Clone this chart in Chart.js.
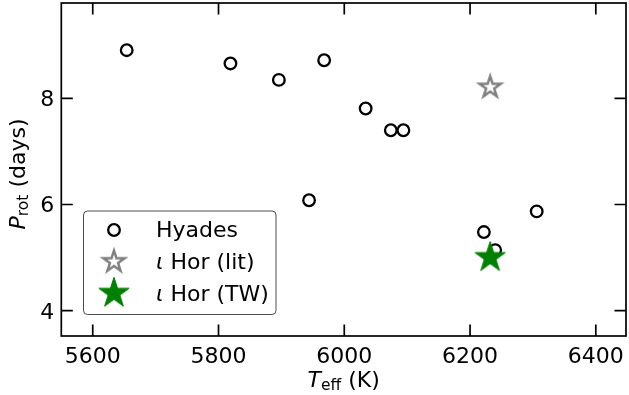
<!DOCTYPE html>
<html><head><meta charset="utf-8">
<script src="https://cdn.jsdelivr.net/npm/chart.js@4"></script>
<style>html,body{margin:0;padding:0;background:#fff;}</style>
</head><body>
<canvas id="c" width="629" height="395"></canvas>
<script>
// ---- data ----
const hyadesTeff = [5654, 5819, 5896, 5968, 6034, 6074, 6094, 5944, 6222, 6240, 6306];
const hyadesProt = [8.91, 8.66, 8.35, 8.72, 7.81, 7.40, 7.40, 6.08, 5.48, 5.14, 5.87];
const litTeff = [6232];
const litProt = [8.21];
const twTeff = [6232];
const twProt = [5.00];
const xTicks = [5600, 5800, 6000, 6200, 6400];
const yTicks = [4, 6, 8];
const seriesLabels = ['Hyades', 'ι Hor (lit)', 'ι Hor (TW)'];
const xTitle = ['T', 'eff', ' (K)'];
const yTitle = ['P', 'rot', ' (days)'];

const FONT = "'DejaVu Sans'";

function makeStar(R, fill, stroke, lw) {
  const size = Math.ceil((R + lw * 3 + 2)) * 2;
  const c = document.createElement('canvas');
  c.width = size; c.height = size;
  const g = c.getContext('2d');
  const cx = size / 2, cy = size / 2, r = R * 0.381966;
  g.beginPath();
  for (let i = 0; i < 10; i++) {
    const rr = i % 2 ? r : R;
    const a = -Math.PI / 2 + i * Math.PI / 5;
    g.lineTo(cx + rr * Math.cos(a), cy + rr * Math.sin(a));
  }
  g.closePath();
  g.lineJoin = 'miter';
  g.miterLimit = 10;
  if (fill) { g.fillStyle = fill; g.fill(); }
  if (stroke) { g.strokeStyle = stroke; g.lineWidth = lw; g.stroke(); }
  return c;
}
const greyStar = makeStar(11.2, null, '#808080', 2.5);
const greenStar = makeStar(16, '#008000', '#008000', 1);

function pts(xs, ys) { return xs.map((v, i) => ({ x: v, y: ys[i] })); }

function drawMixed(ctx, parts, cx, baseY) {
  const fonts = [`italic 22px ${FONT}`, `15.5px ${FONT}`, `22px ${FONT}`];
  const dys = [0, 3, 0];
  let total = 0;
  const widths = parts.map((p, i) => { ctx.font = fonts[i]; const w = ctx.measureText(p).width; total += w; return w; });
  let x = cx - total / 2;
  ctx.textBaseline = 'alphabetic';
  ctx.textAlign = 'left';
  parts.forEach((p, i) => { ctx.font = fonts[i]; ctx.fillText(p, x, baseY + dys[i]); x += widths[i]; });
}

const decor = {
  id: 'decor',
  afterDraw(chart) {
    const { ctx, chartArea: a, scales: { x, y } } = chart;
    ctx.save();
    ctx.strokeStyle = '#000';
    ctx.lineWidth = 1.7;
    ctx.strokeRect(a.left, a.top, a.right - a.left, a.bottom - a.top);
    const L = 11.5;
    ctx.beginPath();
    x.ticks.forEach(t => {
      const px = x.getPixelForValue(t.value);
      ctx.moveTo(px, a.bottom); ctx.lineTo(px, a.bottom - L);
      ctx.moveTo(px, a.top); ctx.lineTo(px, a.top + L);
    });
    y.ticks.forEach(t => {
      const py = y.getPixelForValue(t.value);
      ctx.moveTo(a.left, py); ctx.lineTo(a.left + L, py);
      ctx.moveTo(a.right, py); ctx.lineTo(a.right - L, py);
    });
    ctx.stroke();

    // tick labels
    ctx.fillStyle = '#000';
    ctx.font = `22px ${FONT}`;
    ctx.textBaseline = 'alphabetic';
    ctx.textAlign = 'center';
    x.ticks.forEach(t => {
      ctx.fillText(String(t.value), x.getPixelForValue(t.value), 363);
    });
    ctx.textAlign = 'right';
    y.ticks.forEach(t => {
      ctx.fillText(String(t.value), a.left - 7, y.getPixelForValue(t.value) + 8);
    });

    // axis titles
    drawMixed(ctx, xTitle, (a.left + a.right) / 2, 387);
    ctx.save();
    ctx.translate(25, 174);
    ctx.rotate(-Math.PI / 2);
    drawMixed(ctx, yTitle, 0, 0);
    ctx.restore();

    // legend
    const bx = 83.5, by = 211, bw = 192.5, bh = 103.5, rad = 4;
    ctx.beginPath();
    ctx.moveTo(bx + rad, by);
    ctx.arcTo(bx + bw, by, bx + bw, by + bh, rad);
    ctx.arcTo(bx + bw, by + bh, bx, by + bh, rad);
    ctx.arcTo(bx, by + bh, bx, by, rad);
    ctx.arcTo(bx, by, bx + bw, by, rad);
    ctx.closePath();
    ctx.fillStyle = 'rgba(255,255,255,0.8)';
    ctx.fill();
    ctx.strokeStyle = 'rgba(0,0,0,0.7)';
    ctx.lineWidth = 1;
    ctx.stroke();
    const rowsY = [230, 261.7, 293.3];
    const baseLines = [237.3, 269.3, 301];
    chart.data.datasets.forEach((ds, i) => {
      ctx.save();
      ctx.strokeStyle = ds.borderColor || '#000';
      ctx.fillStyle = ds.backgroundColor || 'transparent';
      ctx.lineWidth = ds.borderWidth || 0;
      Chart.helpers.drawPoint(ctx, { pointStyle: ds.pointStyle, radius: ds.pointRadius, borderWidth: ds.borderWidth || 0, rotation: 0 }, 114, rowsY[i]);
      ctx.restore();
      const lab = ds.label;
      ctx.fillStyle = '#000';
      ctx.textAlign = 'left';
      ctx.textBaseline = 'alphabetic';
      let tx = 156;
      if (lab.startsWith('ι')) {
        ctx.font = `italic 22px ${FONT}`;
        ctx.fillText('ι', tx, baseLines[i]);
        tx += ctx.measureText('ι').width;
        ctx.font = `22px ${FONT}`;
        ctx.fillText(lab.slice(1), tx, baseLines[i]);
      } else {
        ctx.font = `22px ${FONT}`;
        ctx.fillText(lab, tx, baseLines[i]);
      }
    });
    ctx.restore();
  }
};

new Chart(document.getElementById('c'), {
  type: 'scatter',
  data: {
    datasets: [
      { label: seriesLabels[0], data: pts(hyadesTeff, hyadesProt), pointStyle: 'circle', pointRadius: 5.8,
        borderWidth: 2.3, borderColor: '#000', backgroundColor: 'rgba(0,0,0,0)', order: 3 },
      { label: seriesLabels[1], data: pts(litTeff, litProt), pointStyle: greyStar, pointRadius: 14, order: 2 },
      { label: seriesLabels[2], data: pts(twTeff, twProt), pointStyle: greenStar, pointRadius: 17, order: 1 }
    ]
  },
  options: {
    responsive: false, animation: false, devicePixelRatio: 1,
    layout: { autoPadding: false, padding: { top: 3, right: 3, left: 0, bottom: 0 } },
    plugins: { legend: { display: false }, tooltip: { enabled: false } },
    scales: {
      x: {
        type: 'linear', min: 5550, max: 6448,
        afterFit(s) { s.height = 59; },
        afterBuildTicks(s) { s.ticks = xTicks.map(v => ({ value: v })); },
        grid: { display: false, drawTicks: false }, border: { display: false },
        ticks: { display: false }
      },
      y: {
        type: 'linear', min: 3.52, max: 9.8,
        afterFit(s) { s.width = 61.3; },
        afterBuildTicks(s) { s.ticks = yTicks.map(v => ({ value: v })); },
        grid: { display: false, drawTicks: false }, border: { display: false },
        ticks: { display: false }
      }
    }
  },
  plugins: [decor]
});
</script>
</body></html>
